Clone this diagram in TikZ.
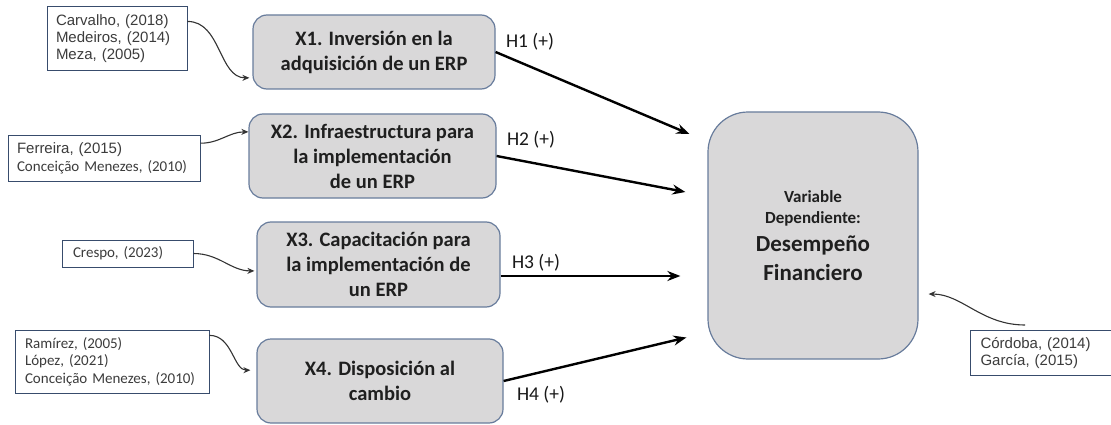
\documentclass[tikz,border=0pt]{standalone}
\usepackage{fontspec}
\setmainfont{Carlito}
\newfontfamily\arialf{Liberation Sans}
\usetikzlibrary{arrows.meta}

\definecolor{boxgray}{RGB}{217,216,217}
\definecolor{boxline}{RGB}{104,124,156}
\definecolor{refline}{RGB}{56,76,108}
\definecolor{reftext}{RGB}{60,60,60}

\tikzset{
  varbox/.style={draw=boxline, fill=boxgray, rounded corners=14pt, line width=1.2pt,
    align=center, text=black!88, font=\fontsize{20.5}{25}\selectfont\bfseries},
  refbox/.style={draw=refline, fill=white, line width=1pt, align=left, inner xsep=9pt,
    inner ysep=0pt, text=reftext, font=\fontsize{15}{17.5}\selectfont},
  hyp/.style={-{Stealth[length=13pt,width=10pt]}, line width=2.4pt},
  cite/.style={-{Stealth[length=7pt,width=6pt]}, line width=1.1pt, black!80},
  hlabel/.style={inner sep=0pt, text=black!90, font=\fontsize{19.5}{22}\selectfont}
}

\begin{document}
\begin{tikzpicture}[x=1pt,y=-1pt]
  \clip (0,0) rectangle (1111,425);

  % independent variables
  \node[varbox, minimum width=242pt, minimum height=74pt] (x1) at (374,52)
    {X1. Inversión en la\\adquisición de un ERP};
  \node[varbox, minimum width=247pt, minimum height=84pt] (x2) at (372.5,156)
    {X2. Infraestructura para\\la implementación\\de un ERP};
  \node[varbox, minimum width=243pt, minimum height=85pt] (x3) at (378.5,264.5)
    {X3. Capacitación para\\la implementación de\\un ERP};
  \node[varbox, minimum width=246pt, minimum height=84pt] (x4) at (380,381)
    {X4. Disposición al\\cambio};

  % dependent variable
  \node[varbox, minimum width=210pt, minimum height=247pt, rounded corners=40pt,
    font=\fontsize{23}{29}\selectfont\bfseries] (dep) at (813,235.5)
    {{\fontsize{17}{20}\selectfont Variable}\\[-8pt]{\fontsize{17}{20}\selectfont Dependiente:}\\[-1pt]Desempeño\\Financiero};

  % sources
  \node[refbox, text width=122pt, minimum height=64pt, font=\arialf\fontsize{15}{17}\selectfont] (r1) at (117,39)
    {Carvalho, (2018)\\Medeiros, (2014)\\Meza, (2005)};
  \node[refbox, text width=174pt, minimum height=45pt] (r2) at (104,158.5)
    {{\arialf Ferreira, (2015)}\\Conceição Menezes, (2010)};
  \node[refbox, text width=109pt, inner xsep=11pt, minimum height=27pt] (r3) at (127.5,253.5)
    {Crespo, (2023)};
  \node[refbox, text width=174pt, inner xsep=10pt, minimum height=63pt] (r4) at (112,361.5)
    {Ramírez, (2005)\\López, (2021)\\Conceição Menezes, (2010)};
  \node[refbox, text width=150pt, inner xsep=10pt, minimum height=45pt, anchor=north west,
    font=\arialf\fontsize{15}{17}\selectfont] (r5) at (970,330)
    {Córdoba, (2014)\\García, (2015)};

  % hypothesis labels
  \node[hlabel] (h1) at (530,42) {H1 (+)};
  \node[hlabel] (h2) at (531,140) {H2 (+)};
  \node[hlabel] (h3) at (536,263) {H3 (+)};
  \node[hlabel] (h4) at (541,395) {H4 (+)};

  \coordinate (t1) at ([shift={(-18pt,101.5pt)}]dep.west);
  \coordinate (t2) at ([shift={(-22pt,43.5pt)}]dep.west);
  \coordinate (t3) at ([shift={(-27pt,-40.5pt)}]dep.west);
  \coordinate (t4) at ([shift={(-21pt,-102pt)}]dep.west);

  \draw[hyp] (x1.east) -- (t1);
  \draw[hyp] (x2.east) -- (t2);
  \draw[hyp] ([yshift=-11.5pt]x3.east) -- (t3);
  \draw[hyp] (x4.east) -- (t4);

  \draw[cite, shorten >=3pt] (r1.14) to[out=0,in=180] (x1.192);
  \draw[cite] (r2.9) to[out=0,in=180] (x2.169.5);
  \draw[cite, shorten >=2pt] (r3.east) to[out=0,in=180] (x3.183);
  \draw[cite, shorten >=6pt] (r4.15) to[out=0,in=180] (x4.175);
  \draw[cite, shorten >=10pt] ([shift={(55pt,5pt)}]r5.north west) to[out=180,in=0] (dep.331);
\end{tikzpicture}
\end{document}
